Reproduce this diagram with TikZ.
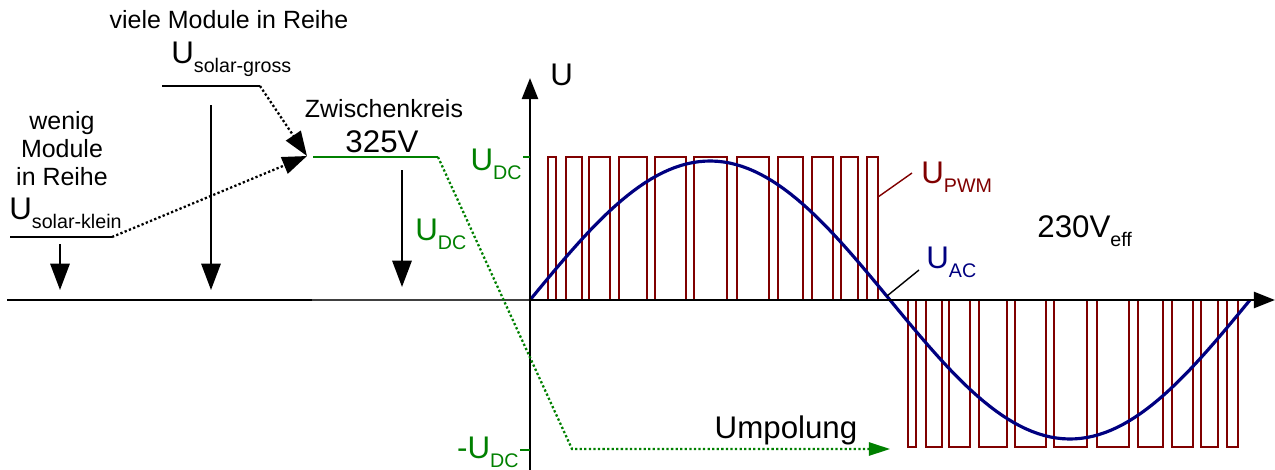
\documentclass[tikz,border=0pt]{standalone}
\usepackage{fontspec}
\setmainfont{Liberation Sans}
\usepackage{xcolor}
\usetikzlibrary{arrows.meta}

\definecolor{pwmred}{RGB}{128,0,0}
\definecolor{acblue}{RGB}{0,0,128}
\definecolor{dcgreen}{RGB}{0,128,0}

\newcommand{\txtsmall}{\fontsize{14.2}{15.9}\selectfont}
\newcommand{\txtbig}{\fontsize{17.8}{20}\selectfont}
\newcommand{\txtsub}{\fontsize{11.2}{13}\selectfont}
\newcommand{\Usub}[1]{U\raisebox{-5.5pt}{\txtsub #1}}

\begin{document}
\begin{tikzpicture}[x=0.02cm, y=-0.02cm,
    lbl/.style={inner sep=0pt},
    levelline/.style={line width=1.2pt},
    downarrow/.style={line width=1.2pt, -{Triangle[length=15pt, width=11pt]}},
    dotarrow/.style={line width=1.3pt, dash pattern=on 1.3pt off 1.3pt, -{Triangle[length=14pt, width=10pt]}},
    axisline/.style={line width=1.7pt},
    pwmline/.style={pwmred, line width=1.3pt},
    acline/.style={acblue, line width=1.8pt},
    pointer/.style={line width=0.8pt}]

    \useasboundingbox (0,0) rectangle (1275,470);

    % PWM voltage, positive and negative half wave
    \draw[pwmline] (530,300)
        \foreach \a/\b in {548/556, 566/582, 589/610, 619/647, 655/686, 694/727, 737/769, 778/803, 812/833, 841/858, 867/878}
        { -- (\a,300) -- (\a,157) -- (\b,157) -- (\b,300) } -- (890,300);
    \draw[pwmline] (890,300)
        \foreach \a/\b in {548/556, 566/582, 589/610, 619/647, 655/686, 694/727, 737/769, 778/803, 812/833, 841/858, 867/878}
        { -- (\a+360,300) -- (\a+360,447) -- (\b+360,447) -- (\b+360,300) } -- (1250,300);

    % Sine wave U_AC
    \draw[acline] plot[domain=0:360, samples=120] ({530+2*\x}, {300-139*sin(\x)});

    % Axes
    \coordinate (xstart) at (7,300);
    \coordinate (xmid) at (312,300);
    \coordinate (origin) at (530,300);
    \coordinate (xend) at (1275,300);
    \coordinate (ybot) at (530,470);
    \coordinate (ytop) at (530,78);
    \draw[axisline] (xstart) -- (xmid);
    \draw[line width=0.8pt, black!75] (xmid) -- (origin);
    \draw[axisline, -{Triangle[length=12pt, width=9pt]}] (origin) -- (xend);
    \draw[axisline, -{Triangle[length=12pt, width=9pt]}] (ybot) -- (ytop);
    \node[lbl, anchor=base west, font=\txtbig] (uaxis) at (550,85) {U};

    % Ticks at +U_DC and -U_DC
    \draw[dcgreen, line width=0.9pt] (523,157) -- (origin |- 0,157);
    \draw[dcgreen, line width=0.9pt] (520,450) -- (origin |- 0,450);
    \node[lbl, anchor=base east, dcgreen, font=\txtbig] (udcpos) at (522,170) {\Usub{DC}};
    \node[lbl, anchor=base east, dcgreen, font=\txtbig] (udcneg) at (519,458) {-\Usub{DC}};

    % Few modules in series
    \node[lbl, align=center, anchor=base, font=\txtsmall] (wenig) at (62,185) {wenig\\Module\\in Reihe};
    \node[lbl, anchor=base west, font=\txtbig] (klein) at (9,219) {\Usub{solar-klein}};
    \coordinate (kleinL) at (10,237);
    \coordinate (kleinR) at (112,237);
    \draw[levelline] (kleinL) -- (kleinR);
    \coordinate (kleinA) at (60,244);
    \coordinate (kleinB) at (60,290);
    \draw[downarrow] (kleinA) -- (kleinB);

    % Many modules in series
    \node[lbl, anchor=base, font=\txtsmall] (viele) at (229,29) {viele Module in Reihe};
    \node[lbl, anchor=base west, font=\txtbig] (gross) at (171,63) {\Usub{solar-gross}};
    \coordinate (grossL) at (162,86);
    \coordinate (grossR) at (260,86);
    \draw[levelline] (grossL) -- (grossR);
    \coordinate (grossA) at (211,105);
    \coordinate (grossB) at (211,290);
    \draw[downarrow] (grossA) -- (grossB);

    % DC link
    \node[lbl, anchor=base, font=\txtsmall] (zk) at (384,117) {Zwischenkreis};
    \node[lbl, anchor=base, font=\txtbig] (zkvolt) at (382,152) {325V};
    \coordinate (zkL) at (313,157);
    \coordinate (zkR) at (438,157);
    \draw[levelline, dcgreen] (zkL) -- (zkR);
    \coordinate (zkin) at (307,156);
    \draw[dotarrow] (grossR) -- (zkin);
    \draw[dotarrow] (kleinR) -- (zkin);
    \coordinate (zkA) at (402,170);
    \coordinate (zkB) at (402,287);
    \draw[downarrow] (zkA) -- (zkB);
    \node[lbl, anchor=base west, dcgreen, font=\txtbig] (udc) at (415,240) {\Usub{DC}};

    % Reversal of polarity
    \coordinate (turn) at (572,449);
    \coordinate (umpolend) at (890,449);
    \draw[dcgreen, line width=1.3pt, dash pattern=on 1.3pt off 1.3pt, -{Triangle[length=12pt, width=7.5pt]}] (zkR) -- (turn) -- (umpolend);
    \node[lbl, anchor=base, font=\txtbig] (umpol) at (786,438) {Umpolung};

    % Labels of the curves
    \node[lbl, anchor=base west, pwmred, font=\txtbig] (upwm) at (921,183) {\Usub{PWM}};
    \coordinate (pwmtip) at (878,197);
    \coordinate (pwmlbl) at (912,173);
    \draw[pointer, pwmred] (pwmtip) -- (pwmlbl);
    \node[lbl, anchor=base west, acblue, font=\txtbig] (uac) at (926,268) {\Usub{AC}};
    \coordinate (actip) at (887,296);
    \coordinate (aclbl) at (919,270);
    \draw[pointer] (actip) -- (aclbl);
    \node[lbl, anchor=base west, font=\txtbig] (eff) at (1037,237) {230V\raisebox{-5.5pt}{\txtsub eff}};

\end{tikzpicture}
\end{document}
